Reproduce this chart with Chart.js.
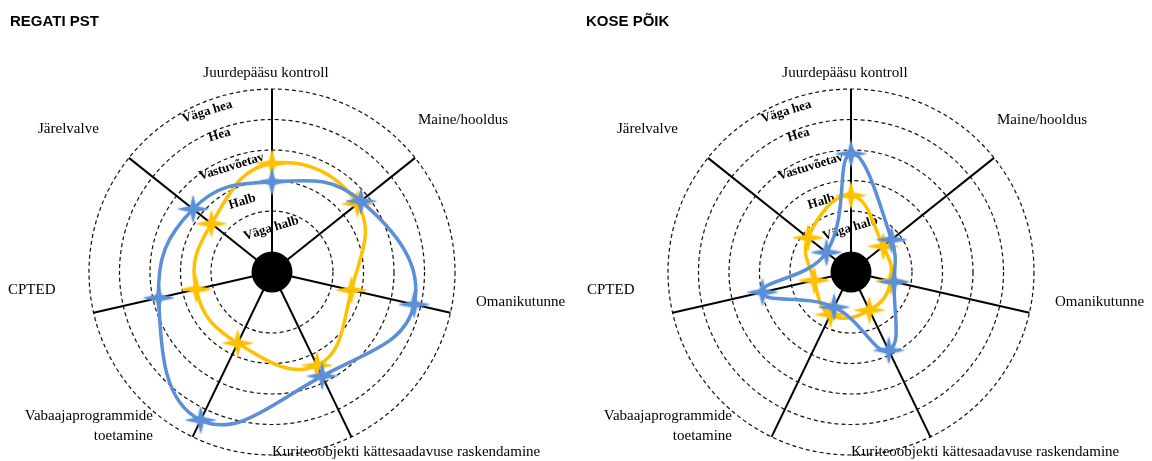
<!DOCTYPE html>
<html>
<head>
<meta charset="utf-8">
<script src="https://cdn.jsdelivr.net/npm/chart.js@4.4.1/dist/chart.umd.min.js"></script>
<style>
html, body { margin: 0; padding: 0; background: #fff; }
#wrap { position: relative; width: 1152px; height: 461px; overflow: hidden; }
.cv { position: absolute; top: 0; width: 576px; height: 461px; }
</style>
</head>
<body>
<div id="wrap">
  <div class="cv" style="left:0"><canvas id="c1" width="576" height="461"></canvas></div>
  <div class="cv" style="left:576px"><canvas id="c2" width="576" height="461"></canvas></div>
</div>
<script>
// ---- data ----
const categories = [
  'Juurdepääsu kontroll',
  'Maine/hooldus',
  'Omanikutunne',
  'Kuriteoobjekti kättesaadavuse raskendamine',
  ['Vabaajaprogrammide', 'toetamine'],
  'CPTED',
  'Järelvalve'
];
const levelLabels = ['Väga halb', 'Halb', 'Vastuvõetav', 'Hea', 'Väga hea'];
const chartTitles = ['REGATI PST', 'KOSE PÕIK'];

const regatiBlue   = [2.96, 3.73, 4.78, 3.79, 5.39, 3.81, 3.31];
const regatiYellow = [3.56, 3.58, 2.67, 3.40, 2.59, 2.55, 2.54];
const koseBlue     = [3.88, 1.70, 1.45, 2.85, 1.28, 2.98, 1.03];
const koseYellow   = [2.51, 1.35, 1.34, 1.39, 1.55, 1.24, 1.80];

// ---- styles ----
const BLUE = '#5B8FD7';
const YELLOW = '#FFC000';

function makeStar(color) {
  const c = document.createElement('canvas');
  c.width = 38; c.height = 38;
  const g = c.getContext('2d');
  g.translate(19, 19);
  g.shadowColor = color;
  g.shadowBlur = 2;
  g.fillStyle = color;
  g.beginPath();
  for (let i = 0; i < 4; i++) {
    const a = i * Math.PI / 2;
    const b = a + Math.PI / 4;
    const ro = (i % 2 === 0) ? 16 : 14;
    g.lineTo(Math.cos(a) * ro, Math.sin(a) * ro);
    g.lineTo(Math.cos(b) * 3.8, Math.sin(b) * 3.8);
  }
  g.closePath();
  g.fill();
  return c;
}
const blueStar = makeStar(BLUE);
const yellowStar = makeStar(YELLOW);

// label placement relative to radar center: [dx, dyBaseline, align]
const labelPlacement = [
  [-6, -195, 'center'],
  [146, -148, 'left'],
  [204, 34, 'left'],
  [0, 184, 'left'],
  [-119, 148, 'right'],
  [-264, 22, 'left'],
  [-234, -139, 'left']
];
// band label placement: [value-radius, angle deg from top]
const bandPlacement = [[1.43, -1], [2.5, -23], [3.7, -21], [4.81, -21], [5.67, -22]];

const decorPlugin = {
  id: 'decor',
  beforeDatasetsDraw(chart, args, opts) {
    const s = chart.scales.r;
    const ctx = chart.ctx;
    const xc = s.xCenter, yc = s.yCenter;
    ctx.save();
    // title
    ctx.fillStyle = '#000';
    ctx.font = 'bold 15px "Liberation Sans", Arial, sans-serif';
    ctx.textAlign = 'left';
    ctx.textBaseline = 'alphabetic';
    ctx.fillText(opts.title, opts.titleX, 26);
    // band labels
    ctx.font = 'bold 13px "Liberation Serif", "Times New Roman", serif';
    ctx.textAlign = 'center';
    ctx.textBaseline = 'middle';
    levelLabels.forEach((t, i) => {
      const [v, a] = bandPlacement[i];
      const r = s.getDistanceFromCenterForValue(v);
      const th = a * Math.PI / 180;
      ctx.save();
      ctx.translate(xc + r * Math.sin(th), yc - r * Math.cos(th));
      ctx.rotate(-17 * Math.PI / 180);
      ctx.fillText(t, 0, 0);
      ctx.restore();
    });
    // point labels
    ctx.font = '15px "Liberation Serif", "Times New Roman", serif';
    ctx.textBaseline = 'alphabetic';
    chart.data.labels.forEach((lab, i) => {
      const [dx, dy, al] = labelPlacement[i];
      ctx.textAlign = al;
      const lines = Array.isArray(lab) ? lab : [lab];
      lines.forEach((ln, k) => ctx.fillText(ln, xc + dx, yc + dy + k * 20));
    });
    // centre disc
    ctx.fillStyle = '#000';
    ctx.beginPath();
    ctx.arc(xc, yc, 20.5, 0, Math.PI * 2);
    ctx.fill();
    ctx.restore();
  }
};

function makeChart(id, blue, yellow, title, pad, titleX) {
  return new Chart(document.getElementById(id), {
    type: 'radar',
    data: {
      labels: categories,
      datasets: [
        { data: blue, borderColor: BLUE, backgroundColor: BLUE, borderWidth: 3.5,
          fill: false, tension: 0.45, pointStyle: blueStar, pointRadius: 12 },
        { data: yellow, borderColor: YELLOW, backgroundColor: YELLOW, borderWidth: 3.5,
          fill: false, tension: 0.45, pointStyle: yellowStar, pointRadius: 12 }
      ]
    },
    options: {
      responsive: false,
      animation: false,
      events: [],
      layout: { padding: pad },
      elements: { line: { capBezierPoints: false } },
      plugins: {
        legend: { display: false },
        tooltip: { enabled: false },
        title: { display: false },
        decor: { title: title, titleX: titleX }
      },
      scales: {
        r: {
          min: 0, max: 6,
          ticks: { display: false, stepSize: 1 },
          pointLabels: { display: false },
          angleLines: { color: '#000', lineWidth: 2 },
          grid: {
            circular: true,
            lineWidth: 1.2,
            color: (c) => (c.tick && c.tick.value === 1) ? 'rgba(0,0,0,0)' : '#111'
          },
          border: { dash: [4, 3] }
        }
      }
    },
    plugins: [decorPlugin]
  });
}

makeChart('c1', regatiBlue, regatiYellow, chartTitles[0],
  { left: 89, top: 89, right: 121, bottom: 6 }, 10);
makeChart('c2', koseBlue, koseYellow, chartTitles[1],
  { left: 92, top: 89, right: 118, bottom: 6 }, 10);
</script>
</body>
</html>
